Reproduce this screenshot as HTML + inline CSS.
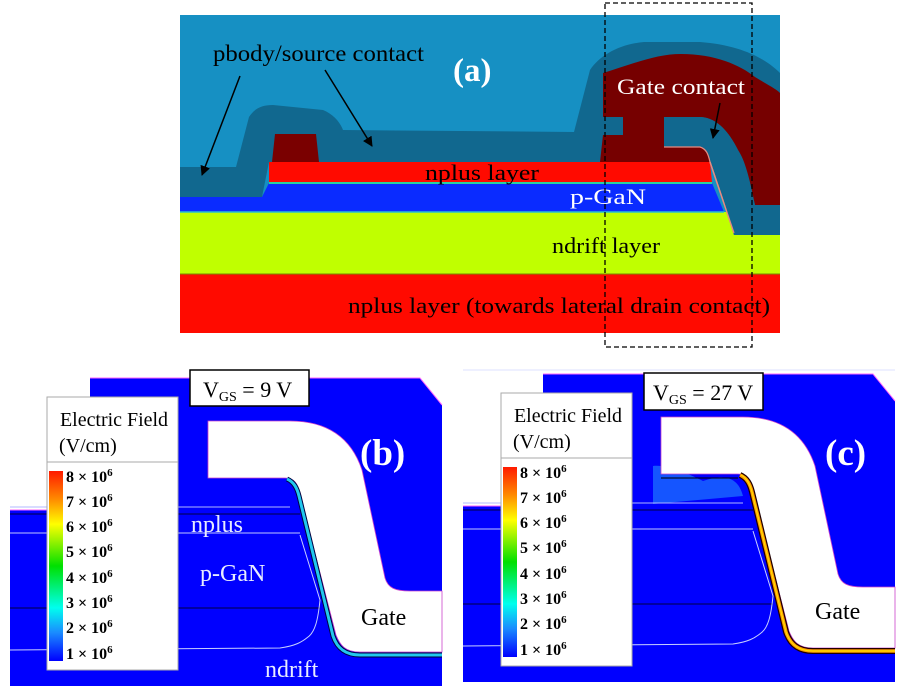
<!DOCTYPE html>
<html><head><meta charset="utf-8"><style>
html,body{margin:0;padding:0;background:#fff;}
svg{display:block;font-family:"Liberation Serif",serif;}
</style></head><body>
<svg width="905" height="694" viewBox="0 0 905 694" xmlns="http://www.w3.org/2000/svg">
<defs>
<linearGradient id="cb" x1="0" y1="0" x2="0" y2="1">
<stop offset="0" stop-color="#ff1a00"/><stop offset="0.15" stop-color="#ff8c00"/><stop offset="0.28" stop-color="#ffff00"/><stop offset="0.5" stop-color="#00e000"/><stop offset="0.72" stop-color="#00ffee"/><stop offset="0.85" stop-color="#1a8cff"/><stop offset="1" stop-color="#0000ff"/>
</linearGradient>
<marker id="ah" markerWidth="10" markerHeight="10" refX="9" refY="5" orient="auto" markerUnits="userSpaceOnUse"><path d="M0,0 L10,5 L0,10 Z" fill="#000"/></marker>
</defs>

<!-- Panel (a) -->
<rect x="180" y="15" width="600" height="318" fill="#1690c3"/>
<rect x="180" y="273" width="600" height="60" fill="#ff0a00"/>
<rect x="180" y="212" width="600" height="62" fill="#c0ff00"/>
<line x1="180" y1="274" x2="780" y2="274" stroke="#7a8a00" stroke-width="1"/>
<path d="M180,167 L236,167 L249,117 C255,108 262,105 273,105 L323,110 C333,114 340,122 343,130 L574,132 L590,70 C600,55 620,44 644,42 L700,42 C740,45 765,58 780,73 L780,235 L734,235 L710,162 L269,162 L262,197 L180,197 Z" fill="#11688f"/>
<path d="M180,197 L262,197 L269,183 L712,183 L724,212 L180,212 Z" fill="#0a2bff"/>
<line x1="269" y1="183" x2="712" y2="183" stroke="#2bd0a0" stroke-width="2"/>
<line x1="180" y1="212" x2="724" y2="212" stroke="#28c0d0" stroke-width="1.5"/>
<path d="M269,162 L710,162 L712,182 L269,182 Z" fill="#ff0a00"/>
<path d="M710,162 L734,233 L780,233" fill="none" stroke="#e88a80" stroke-width="1.5"/>
<path d="M275,134 L316,134 L319,162 L272,162 Z" fill="#7a0000"/>
<path d="M603,73 C630,65 655,54 681,54 C715,54 740,65 755,77 C768,85 778,90 780,93 L780,205 L755,205 C750,180 745,160 738,150 C728,130 716,118 701,117 L664,117 L664,147 L700,147 C706,150 708,155 710,162 L600,162 L603,135 L623,135 L623,117 L603,117 Z" fill="#760000"/>
<path d="M664,117 L701,117 C716,118 728,130 738,150 C745,165 750,185 755,205 L780,205 L780,235 L734,235 L712,160 C708,150 705,147 700,147 L664,147 Z" fill="#11688f"/>
<path d="M664,147 L700,147 C706,149 708,153 710,162 L734,233" fill="none" stroke="#e88a80" stroke-width="1.2"/>
<text x="213" y="61" font-size="23" fill="#000" textLength="211" lengthAdjust="spacingAndGlyphs">pbody/source contact</text>
<text x="453" y="81" font-size="33" font-weight="bold" fill="#fff">(a)</text>
<text x="617" y="94" font-size="22" fill="#fff" textLength="128" lengthAdjust="spacingAndGlyphs">Gate contact</text>
<text x="425" y="180" font-size="22" fill="#000" textLength="114" lengthAdjust="spacingAndGlyphs">nplus layer</text>
<text x="570" y="204" font-size="22" fill="#fff" textLength="76" lengthAdjust="spacingAndGlyphs">p-GaN</text>
<text x="552" y="253" font-size="22" fill="#000" textLength="108" lengthAdjust="spacingAndGlyphs">ndrift layer</text>
<text x="348" y="313" font-size="22" fill="#000" textLength="422" lengthAdjust="spacingAndGlyphs">nplus layer (towards lateral drain contact)</text>
<line x1="240" y1="76" x2="202" y2="175" stroke="#000" stroke-width="1.5" marker-end="url(#ah)"/>
<line x1="325" y1="70" x2="372" y2="146" stroke="#000" stroke-width="1.5" marker-end="url(#ah)"/>
<line x1="720" y1="103" x2="713" y2="138" stroke="#000" stroke-width="1.5" marker-end="url(#ah)"/>
<rect x="605" y="3" width="147" height="344" fill="none" stroke="#000" stroke-width="1.3" stroke-dasharray="5,3"/>

<!-- Panel (b) -->
<g>
<path d="M90,378 L420,378 L442,405 L442,686 L10,686 L10,510 L90,510 Z" fill="#0000ff"/>
<path d="M90,378 L420,378 L442,405" fill="none" stroke="#ff66ff" stroke-width="1"/>
<line x1="10" y1="510" x2="90" y2="510" stroke="#ff66ff" stroke-width="1"/>
<line x1="10" y1="514" x2="300" y2="514" stroke="#000" stroke-width="0.8"/>
<line x1="10" y1="507" x2="290" y2="507" stroke="#b0b8ff" stroke-width="1"/>
<line x1="10" y1="533" x2="300" y2="533" stroke="#c0c8ff" stroke-width="1"/>
<line x1="10" y1="608" x2="320" y2="608" stroke="#000" stroke-width="0.8"/>
<path d="M10,650 L280,648 C295,646 302,642 308,637 C315,632 318,620 320,600 L300,535" fill="none" stroke="#c8d0ff" stroke-width="1"/>
<path d="M208,421 L290,421 C330,421 352,440 362,470 L385,578 C388,588 395,591 410,591 L442,591 L442,652 L360,652 C345,652 340,645 336,635 L300,495 C298,483 294,478 285,478 L208,478 Z" fill="#fff" stroke="#cc44cc" stroke-width="0.8"/>
<path d="M287,479 C294,482 297,488 299,496 L333,636 C337,648 345,655 360,655 L442,655" fill="none" stroke="#000040" stroke-width="5"/>
<path d="M287,479 C294,482 297,488 299,496 L333,636 C337,648 345,655 360,655 L442,655" fill="none" stroke="#22c8ee" stroke-width="3"/>
</g>
<rect x="190" y="370" width="119" height="36" fill="#fff" stroke="#000" stroke-width="1.5"/>
<text x="203" y="397" font-size="22" fill="#000">V<tspan font-size="14" dy="4">GS</tspan><tspan dy="-4"> = 9 V</tspan></text>
<text x="360" y="465" font-size="37" font-weight="bold" fill="#fff">(b)</text>
<text x="191" y="532" font-size="24" fill="#e8ecff">nplus</text>
<text x="200" y="581" font-size="24" fill="#e8ecff">p-GaN</text>
<text x="361" y="625" font-size="24" fill="#000">Gate</text>
<text x="265" y="677" font-size="24" fill="#e8ecff">ndrift</text>
<g>
<rect x="47" y="397" width="131" height="273" fill="#fff" stroke="#aaa" stroke-width="1"/>
<line x1="47" y1="462" x2="178" y2="462" stroke="#aaa"/>
<text x="60" y="426" font-size="20" textLength="108" lengthAdjust="spacingAndGlyphs">Electric Field</text>
<text x="59" y="452" font-size="20">(V/cm)</text>
<rect x="49" y="471" width="14" height="190" fill="url(#cb)"/>
<g font-size="16" font-weight="bold">
<text x="66" y="482">8 × 10<tspan font-size="11" dy="-6">6</tspan></text>
<text x="66" y="507">7 × 10<tspan font-size="11" dy="-6">6</tspan></text>
<text x="66" y="532">6 × 10<tspan font-size="11" dy="-6">6</tspan></text>
<text x="66" y="557">5 × 10<tspan font-size="11" dy="-6">6</tspan></text>
<text x="66" y="583">4 × 10<tspan font-size="11" dy="-6">6</tspan></text>
<text x="66" y="608">3 × 10<tspan font-size="11" dy="-6">6</tspan></text>
<text x="66" y="633">2 × 10<tspan font-size="11" dy="-6">6</tspan></text>
<text x="66" y="659">1 × 10<tspan font-size="11" dy="-6">6</tspan></text>
</g>
</g>

<!-- Panel (c) -->
<line x1="463" y1="370" x2="895" y2="370" stroke="#dde0ff" stroke-width="1"/>
<g transform="translate(453,-4)">
<path d="M90,378 L420,378 L442,405 L442,686 L10,686 L10,510 L90,510 Z" fill="#0000ff"/>
<path d="M90,378 L420,378 L442,405" fill="none" stroke="#ff66ff" stroke-width="1"/>
<line x1="10" y1="510" x2="90" y2="510" stroke="#ff66ff" stroke-width="1"/>
<path d="M200,470 C215,468 240,480 250,485 C270,478 285,480 290,500 L200,508 Z" fill="#1a6aff" opacity="0.8"/>
<line x1="10" y1="514" x2="300" y2="514" stroke="#000" stroke-width="0.8"/>
<line x1="10" y1="507" x2="290" y2="507" stroke="#b0b8ff" stroke-width="1"/>
<line x1="10" y1="533" x2="300" y2="533" stroke="#c0c8ff" stroke-width="1"/>
<line x1="10" y1="608" x2="320" y2="608" stroke="#000" stroke-width="0.8"/>
<path d="M10,650 L280,648 C295,646 302,642 308,637 C315,632 318,620 320,600 L300,535" fill="none" stroke="#c8d0ff" stroke-width="1"/>
<path d="M208,421 L290,421 C330,421 352,440 362,470 L385,578 C388,588 395,591 410,591 L442,591 L442,652 L360,652 C345,652 340,645 336,635 L300,495 C298,483 294,478 285,478 L208,478 Z" fill="#fff" stroke="#cc44cc" stroke-width="0.8"/>
<path d="M208,482 L285,482" stroke="#000" stroke-width="1"/>
<path d="M287,479 C294,482 297,488 299,496 L333,636 C337,648 345,655 360,655 L442,655" fill="none" stroke="#200000" stroke-width="6"/>
<path d="M287,479 C294,482 297,488 299,496 L333,636 C337,648 345,655 360,655 L442,655" fill="none" stroke="#ff9a00" stroke-width="3.5"/>
<path d="M288,479 C294,482 297,488 299,496 L333,636 C337,648 345,655 360,655 L442,655" fill="none" stroke="#ffe000" stroke-width="1.2"/>
</g>
<rect x="644" y="373" width="119" height="37" fill="#fff" stroke="#000" stroke-width="1.5"/>
<text x="653" y="400" font-size="22" fill="#000">V<tspan font-size="14" dy="4">GS</tspan><tspan dy="-4"> = 27 V</tspan></text>
<text x="825" y="465" font-size="37" font-weight="bold" fill="#fff">(c)</text>
<text x="815" y="619" font-size="24" fill="#000">Gate</text>
<g transform="translate(454,-4)">
<rect x="47" y="397" width="131" height="273" fill="#fff" stroke="#aaa" stroke-width="1"/>
<line x1="47" y1="462" x2="178" y2="462" stroke="#aaa"/>
<text x="60" y="426" font-size="20" textLength="108" lengthAdjust="spacingAndGlyphs">Electric Field</text>
<text x="59" y="452" font-size="20">(V/cm)</text>
<rect x="49" y="471" width="14" height="190" fill="url(#cb)"/>
<g font-size="16" font-weight="bold">
<text x="66" y="482">8 × 10<tspan font-size="11" dy="-6">6</tspan></text>
<text x="66" y="507">7 × 10<tspan font-size="11" dy="-6">6</tspan></text>
<text x="66" y="532">6 × 10<tspan font-size="11" dy="-6">6</tspan></text>
<text x="66" y="557">5 × 10<tspan font-size="11" dy="-6">6</tspan></text>
<text x="66" y="583">4 × 10<tspan font-size="11" dy="-6">6</tspan></text>
<text x="66" y="608">3 × 10<tspan font-size="11" dy="-6">6</tspan></text>
<text x="66" y="633">2 × 10<tspan font-size="11" dy="-6">6</tspan></text>
<text x="66" y="659">1 × 10<tspan font-size="11" dy="-6">6</tspan></text>
</g>
</g>
</svg>
</body></html>
